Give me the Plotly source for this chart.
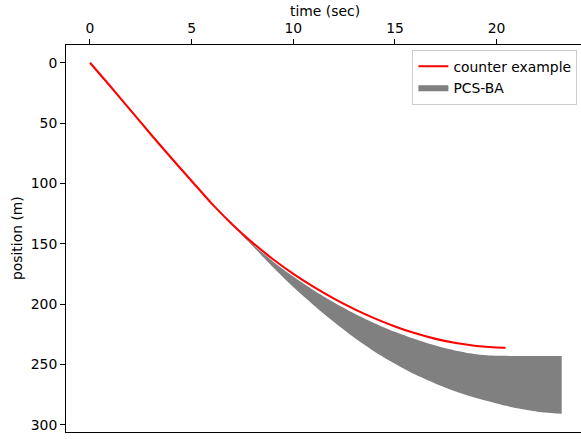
import plotly.graph_objects as go

# counter example trajectory
t_red = [0, 1, 2, 3, 4, 5, 6, 7, 8, 9, 10, 11, 12, 13, 14, 15, 16, 17, 18, 19, 20, 20.44]
pos_red = [0, 19.5, 39.5, 59.5, 79, 98, 117, 134, 149.3, 162.9, 175, 185.8, 195.5,
           204.2, 211.9, 218.6, 224.3, 228.9, 232.4, 234.8, 236.1, 236.3]

# PCS-BA reachable band
t_band = [6.2, 7, 8, 9, 10, 11, 12, 13, 14, 15, 16, 17, 18, 19, 20, 21, 22, 23, 23.2]
pos_band_upper = [120.4, 134.6, 150.5, 164.7, 177.3, 188.6, 198.7, 207.8, 215.9, 223.1,
                  229.3, 234.5, 238.7, 241.6, 242.9, 243, 243, 243, 243]
pos_band_lower = [120.4, 134.5, 152, 169.5, 186, 201, 215, 228, 239.5, 249.5, 258.5,
                  266, 272.5, 278, 282.5, 286.5, 289.3, 290.8, 291]

x_ticks = [0, 5, 10, 15, 20]
y_ticks = [0, 50, 100, 150, 200, 250, 300]

FONT = "DejaVu Sans"
FS = 13.9

fig = go.Figure()
fig.add_trace(go.Scatter(x=t_band, y=pos_band_upper, mode="lines",
                         line=dict(width=0, color="#808080", shape="spline", smoothing=0.6),
                         showlegend=False, hoverinfo="skip"))
fig.add_trace(go.Scatter(x=t_band, y=pos_band_lower, mode="lines",
                         line=dict(width=0, color="#808080", shape="spline", smoothing=0.6),
                         fill="tonexty", fillcolor="#808080", name="PCS-BA"))
fig.add_trace(go.Scatter(x=t_red, y=pos_red, mode="lines",
                         line=dict(color="#ff0000", width=2.1, shape="spline", smoothing=0.6),
                         name="counter example"))

fig.update_layout(
    width=581, height=439,
    margin=dict(l=66, r=0, t=45, b=7, autoexpand=False),
    paper_bgcolor="white", plot_bgcolor="white",
    font=dict(family=FONT, size=FS, color="black"),
    showlegend=True,
    legend=dict(x=0.993, y=0.988, xanchor="right", yanchor="top",
                traceorder="reversed",
                bgcolor="rgba(255,255,255,0.8)", bordercolor="#cccccc", borderwidth=1,
                font=dict(family=FONT, size=FS, color="black"),
                itemwidth=30, tracegroupgap=2),
    xaxis=dict(side="top", range=[-1.18, 24.15], tickvals=x_ticks, automargin=False,
               ticks="outside", ticklen=4.9, tickwidth=1.1, tickcolor="black",
               showline=True, linecolor="black", linewidth=1.1, mirror=True,
               showgrid=False, zeroline=False),
    yaxis=dict(range=[306.1, -14.7], tickvals=y_ticks, automargin=False,
               ticks="outside", ticklen=4.9, tickwidth=1.1, tickcolor="black",
               showline=True, linecolor="black", linewidth=1.1,
               showgrid=False, zeroline=False),
    annotations=[
        dict(text="time (sec)", xref="paper", yref="paper", x=0.503, y=1.088,
             xanchor="center", yanchor="middle", showarrow=False,
             font=dict(family=FONT, size=FS, color="black")),
        dict(text="position (m)", xref="paper", yref="paper", x=-0.096, y=0.5,
             xanchor="center", yanchor="middle", textangle=-90, showarrow=False,
             font=dict(family=FONT, size=FS, color="black")),
    ],
)

fig.write_html("out.html", config={"displayModeBar": False},
               post_script="document.body.style.margin='0';document.body.style.padding='0';")
